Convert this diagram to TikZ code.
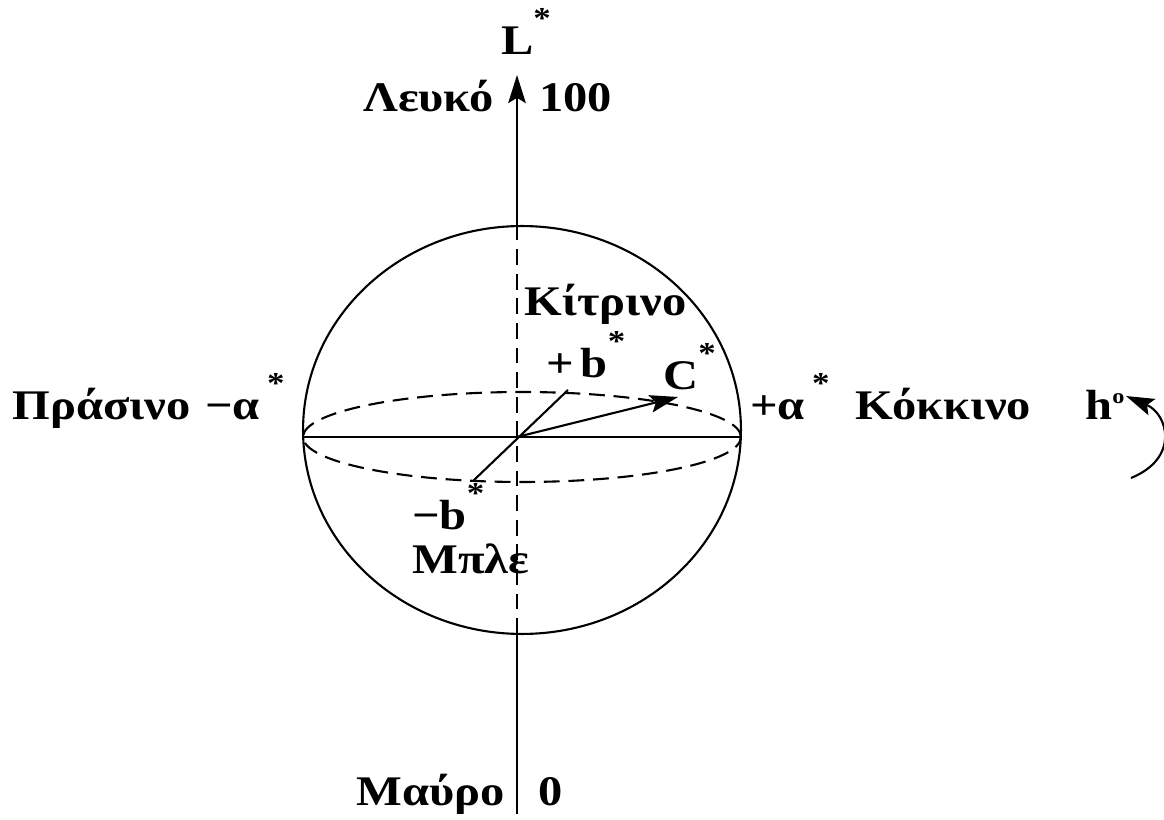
\documentclass[tikz,border=0pt]{standalone}
\usepackage{fontspec}
\setmainfont{Liberation Serif}
\newfontfamily\lblfont{Liberation Serif}[FakeStretch=1.15]
\usetikzlibrary{arrows.meta, positioning}

\tikzset{
    lbl/.style={font=\lblfont\bfseries\fontsize{24}{28}\selectfont, inner sep=0pt, anchor=base west},
    thinline/.style={line width=1.2pt},
    dashline/.style={line width=1.2pt, dash pattern=on 9pt off 5pt},
    tip/.style={-{Stealth[length=16pt, width=10pt, inset=3pt]}},
}
\newcommand{\astr}{\raisebox{0.62em}{\LARGE*}}

\begin{document}
\begin{tikzpicture}[x=0.02cm, y=-0.02cm]
    \useasboundingbox (0,0) rectangle (1164,820);

    % ===== Points of the L* axis and the sphere =====
    \coordinate (O) at (517,437);
    \coordinate (top) at (517,75);
    \coordinate (bot) at (517,814);
    \coordinate (ctop) at (517,226);
    \coordinate (cbot) at (517,634);
    \coordinate (left) at (303,437);
    \coordinate (right) at (741,437);
    \coordinate (bp) at (568,390);
    \coordinate (bm) at (473,481);
    \coordinate (cend) at (678,397);

    % Sphere and equator
    \draw[thinline] (522,430) ellipse [x radius=4.38cm, y radius=4.08cm];
    \draw[dashline] (522,437) ellipse [x radius=4.38cm, y radius=0.9cm];

    % L* axis
    \draw[thinline] (bot) -- (cbot);
    \draw[dashline] (cbot) -- (ctop);
    \draw[thinline, tip] (ctop) -- (top);

    % a* and b* axes, chroma vector
    \draw[thinline] (left) -- (right);
    \draw[thinline] (bm) -- (bp);
    \draw[thinline, tip] (O) -- (cend);

    % Hue angle arrow
    \coordinate (hs) at (1131,478);
    \coordinate (he) at (1126,396);
    \draw[thinline, tip] (hs) .. controls (1180,458) and (1168,414) .. (he);

    % ===== Labels =====
    \node[lbl, anchor=base] (lstar) at (526,55) {L\astr};
    \node[lbl, anchor=base east] (leuko) at (494,112) {Λευκό};
    \node[lbl] (hundred) at (539,112) {100};
    \node[lbl] (kitrino) at (524,316) {Κίτρινο};
    \node[lbl] (bplus) at (546,378) {+\,b\astr};
    \node[lbl] (cstar) at (663,390) {C\astr};
    \node[lbl] (prasino) at (12,420) {Πράσινο};
    \node[lbl] (aminus) at (205,420) {−α\,\astr};
    \node[lbl] (aplus) at (750,420) {+α\,\astr};
    \node[lbl] (kokkino) at (855,420) {Κόκκινο};
    \node[lbl] (hdeg) at (1085,420) {h\raisebox{0.4em}{\large o}};
    \node[lbl] (bminus) at (412,530) {−b\astr};
    \node[lbl] (mple) at (412,574) {Μπλε};
    \node[lbl, anchor=base east] (mauro) at (505,806) {Μαύρο};
    \node[lbl] (zero) at (538,806) {0};
\end{tikzpicture}
\end{document}
